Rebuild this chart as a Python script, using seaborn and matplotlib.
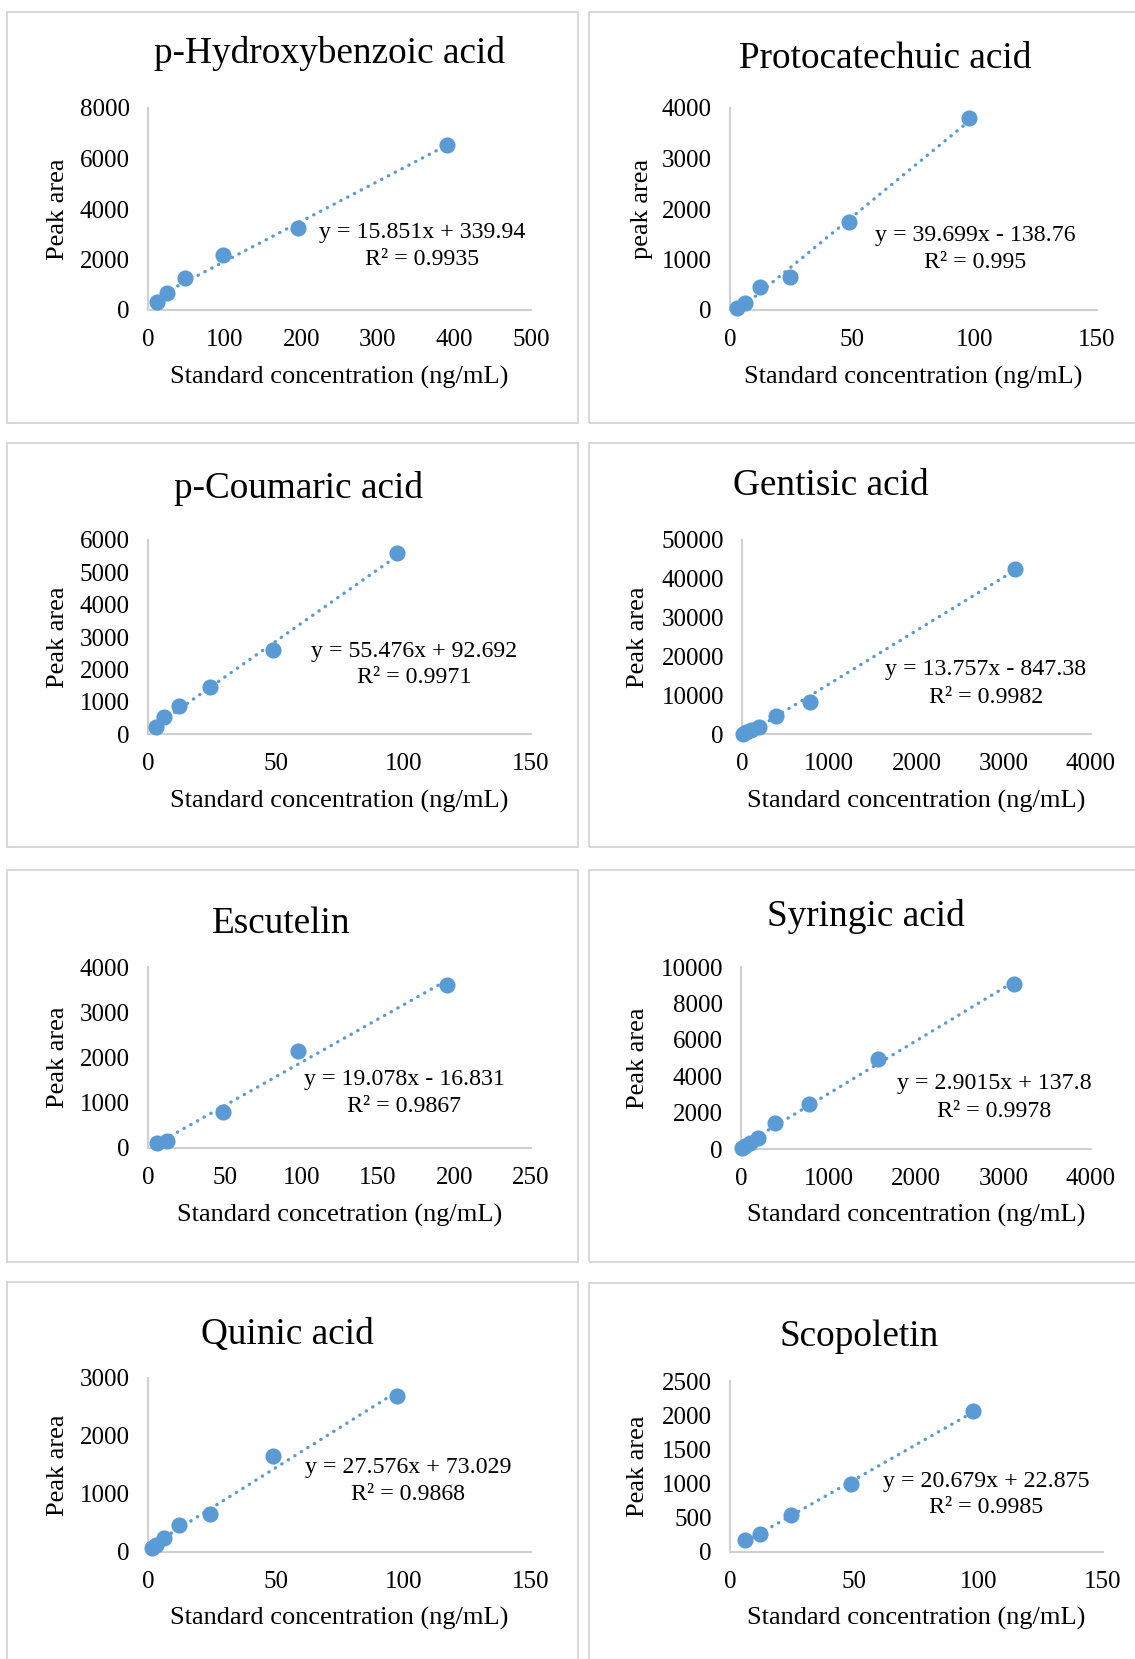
import matplotlib
matplotlib.use("Agg")
import matplotlib.pyplot as plt
from matplotlib.patches import Rectangle
import seaborn as sns
import pandas as pd

sns.set_theme(style="white")
plt.rcParams["font.family"] = ["Liberation Serif", "DejaVu Serif"]

# ---------------- data ----------------
titles = ["p-Hydroxybenzoic acid", "Protocatechuic acid", "p-Coumaric acid", "Gentisic acid",
          "Escutelin", "Syringic acid", "Quinic acid", "Scopoletin"]
ylabels = ["Peak area", "peak area", "Peak area", "Peak area",
           "Peak area", "Peak area", "Peak area", "Peak area"]
xlabels = ["Standard concentration (ng/mL)"] * 4 + ["Standard concetration (ng/mL)"] + \
          ["Standard concentration (ng/mL)"] * 3

hba_x = [12.2, 24.4, 48.8, 97.7, 195.3, 390.6]
hba_y = [330, 660, 1255, 2180, 3265, 6545]
pca_x = [3.05, 6.1, 12.2, 24.4, 48.8, 97.7]
pca_y = [35, 130, 450, 650, 1750, 3800]
pcou_x = [3.05, 6.1, 12.2, 24.4, 48.8, 97.7]
pcou_y = [225, 515, 865, 1465, 2600, 5610]
gen_x = [12.2, 48.8, 97.7, 195.3, 390.6, 781.3, 3125]
gen_y = [100, 600, 1030, 1720, 4730, 8330, 42450]
esc_x = [6.1, 12.2, 48.8, 97.7, 195.3]
esc_y = [110, 160, 785, 2150, 3610]
syr_x = [12.2, 48.8, 97.7, 195.3, 390.6, 781.3, 1562.5, 3125]
syr_y = [40, 165, 310, 590, 1450, 2480, 4935, 9085]
qui_x = [1.5, 3.05, 6.1, 12.2, 24.4, 48.8, 97.7]
qui_y = [70, 115, 240, 470, 655, 1650, 2685]
sco_x = [6.1, 12.2, 24.4, 48.8, 97.7]
sco_y = [170, 270, 535, 990, 2065]

xs = [hba_x, pca_x, pcou_x, gen_x, esc_x, syr_x, qui_x, sco_x]
ys = [hba_y, pca_y, pcou_y, gen_y, esc_y, syr_y, qui_y, sco_y]

slopes = [15.851, 39.699, 55.476, 13.757, 19.078, 2.9015, 27.576, 20.679]
intercepts = [339.94, -138.76, 92.692, -847.38, -16.831, 137.8, 73.029, 22.875]
eq_texts = ["y = 15.851x + 339.94", "y = 39.699x - 138.76", "y = 55.476x + 92.692",
            "y = 13.757x - 847.38", "y = 19.078x - 16.831", "y = 2.9015x + 137.8",
            "y = 27.576x + 73.029", "y = 20.679x + 22.875"]
r2_texts = ["R² = 0.9935", "R² = 0.995", "R² = 0.9971", "R² = 0.9982",
            "R² = 0.9867", "R² = 0.9978", "R² = 0.9868", "R² = 0.9985"]

xticks = [[0, 100, 200, 300, 400, 500], [0, 50, 100, 150], [0, 50, 100, 150],
          [0, 1000, 2000, 3000, 4000], [0, 50, 100, 150, 200, 250],
          [0, 1000, 2000, 3000, 4000], [0, 50, 100, 150], [0, 50, 100, 150]]
yticks = [[0, 2000, 4000, 6000, 8000], [0, 1000, 2000, 3000, 4000],
          [0, 1000, 2000, 3000, 4000, 5000, 6000], [0, 10000, 20000, 30000, 40000, 50000],
          [0, 1000, 2000, 3000, 4000], [0, 2000, 4000, 6000, 8000, 10000],
          [0, 1000, 2000, 3000], [0, 500, 1000, 1500, 2000, 2500]]

# ---------------- layout (figure pixels) ----------------
W, H = 1135, 1659
# axes box: left, right, top, bottom
boxes = [(148, 531, 108, 310), (730, 1097, 108, 310),
         (148, 531, 540, 734), (742, 1091, 540, 734),
         (148, 531, 967, 1148), (741, 1091, 967, 1149),
         (148, 531, 1378, 1552), (730, 1103, 1381, 1552)]
ylabel_x = [58, 642, 58, 638, 58, 638, 58, 638]
xlabel_y = [377, 377, 801, 801, 1215, 1215, 1618, 1618]
title_pos = [(330, 63), (885, 68), (299, 498), (831, 495),
             (281, 933), (866, 926), (287, 1344), (859, 1346)]
eq_pos = [(422, 238, 265), (975, 241, 268), (414, 657, 683), (986, 675, 703),
          (404, 1085, 1112), (994, 1089, 1117), (408, 1473, 1500), (986, 1487, 1513)]
frames = [(7, 12, 578, 423), (589, 12, 1140, 423),
          (7, 443, 578, 847), (589, 443, 1140, 847),
          (7, 870, 578, 1262), (589, 870, 1140, 1262),
          (7, 1282, 578, 1670), (589, 1283, 1140, 1670)]

BLUE = "#5B9BD5"
AXIS_GREY = "#D0D0D0"
FRAME_GREY = "#D9D9D9"

fig = plt.figure(figsize=(W / 100, H / 100), dpi=100)
fig.patch.set_facecolor("white")

for (x0, y0, x1, y1) in frames:
    fig.patches.append(Rectangle((x0 / W, 1 - y1 / H), (x1 - x0) / W, (y1 - y0) / H,
                                 transform=fig.transFigure, fill=False,
                                 edgecolor=FRAME_GREY, linewidth=1.5, zorder=0))

for i in range(8):
    l, r, t, b = boxes[i]
    ax = fig.add_axes([l / W, 1 - b / H, (r - l) / W, (b - t) / H])
    ax.set_facecolor("none")
    df = pd.DataFrame({"x": xs[i], "y": ys[i]})
    xmin, xmax = min(xs[i]), max(xs[i])
    tl = pd.DataFrame({"x": [xmin, xmax],
                       "y": [slopes[i] * xmin + intercepts[i], slopes[i] * xmax + intercepts[i]]})
    sns.scatterplot(data=df, x="x", y="y", ax=ax, color=BLUE, s=135, edgecolor=BLUE,
                    linewidth=0, zorder=3, clip_on=False)
    sns.lineplot(data=tl, x="x", y="y", ax=ax, color=BLUE, linewidth=2.4,
                 linestyle=(0, (0.1, 2.2)), dash_capstyle="round", zorder=4)

    ax.set_xlim(xticks[i][0], xticks[i][-1])
    ax.set_ylim(yticks[i][0], yticks[i][-1])
    ax.set_xticks(xticks[i])
    ax.set_yticks(yticks[i])
    ax.set_xticklabels([str(v) for v in xticks[i]])
    ax.set_yticklabels([str(v) for v in yticks[i]])
    ax.tick_params(axis="both", length=0, labelsize=18, colors="black")
    ax.tick_params(axis="x", pad=14)
    ax.tick_params(axis="y", pad=13)
    for side in ["top", "right"]:
        ax.spines[side].set_visible(False)
    for side in ["left", "bottom"]:
        ax.spines[side].set_color(AXIS_GREY)
        ax.spines[side].set_linewidth(1.5)
    ax.grid(False)

    ax.set_xlabel(xlabels[i], fontsize=19, color="black", va="center")
    ax.set_ylabel(ylabels[i], fontsize=19, color="black", va="center")
    ax.xaxis.set_label_coords(0.5, -(xlabel_y[i] - b) / (b - t))
    ax.yaxis.set_label_coords((ylabel_x[i] - l) / (r - l), 0.5)

    tx, ty = title_pos[i]
    fig.text(tx / W, 1 - ty / H, titles[i], fontsize=26.8, ha="center", va="baseline", color="black")
    ex, ey1, ey2 = eq_pos[i]
    fig.text(ex / W, 1 - ey1 / H, eq_texts[i], fontsize=17.2, ha="center", va="baseline", color="black")
    fig.text(ex / W, 1 - ey2 / H, r2_texts[i], fontsize=17.2, ha="center", va="baseline", color="black")

fig.savefig("out.png", dpi=100, facecolor="white")
